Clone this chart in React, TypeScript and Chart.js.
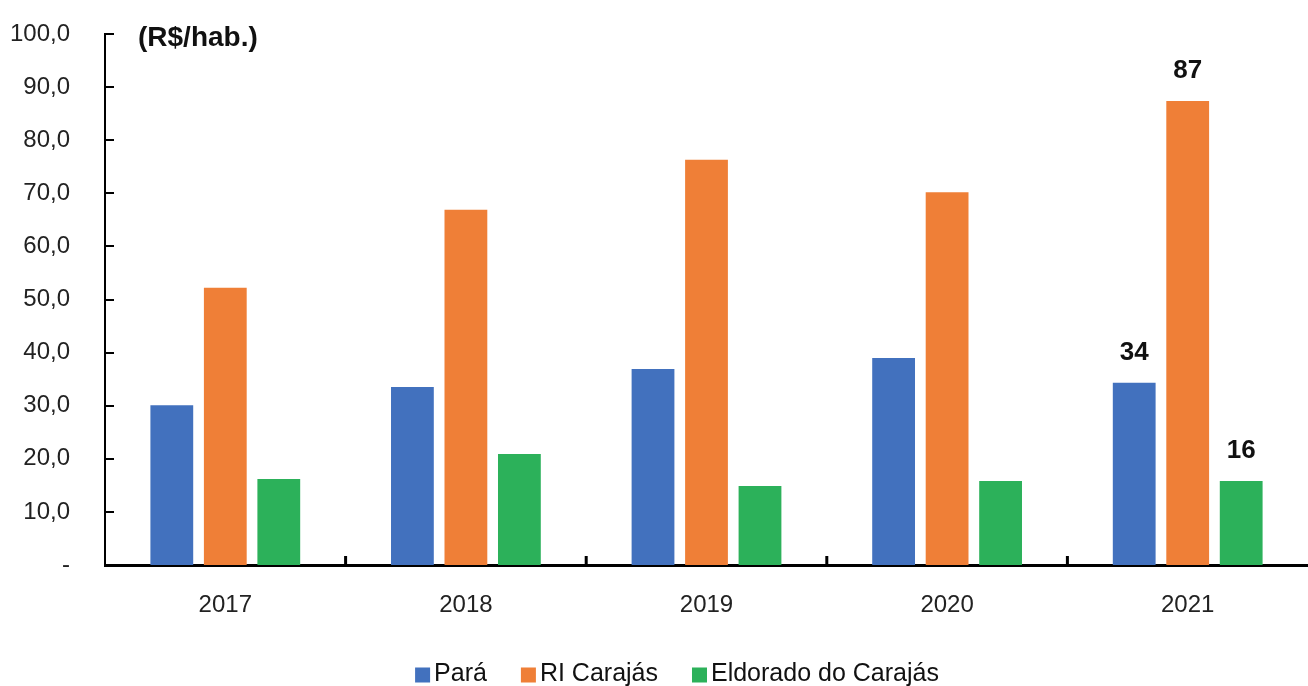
import React, { useEffect, useRef } from "react";
import { Chart, registerables } from "chart.js";

Chart.register(...registerables);

const categories = ["2017", "2018", "2019", "2020", "2021"];
const seriesNames = ["Pará", "RI Carajás", "Eldorado do Carajás"];
const para = [30.1, 33.5, 36.9, 39.0, 34.3];
const riCarajas = [52.2, 66.9, 76.3, 70.2, 87.4];
const eldorado = [16.2, 20.9, 14.9, 15.8, 15.8];
const yTickLabels = ["-", "10,0", "20,0", "30,0", "40,0", "50,0", "60,0", "70,0", "80,0", "90,0", "100,0"];
const labeledCategory = "2021";
const unitLabel = "(R$/hab.)";

const FONT = "'Liberation Sans', Arial, sans-serif";
const colors = ["#4271BE", "#EF7F37", "#2CB15A"];

export default function App() {
  const ref = useRef<HTMLCanvasElement | null>(null);
  useEffect(() => {
    document.body.style.margin = "0";
    const canvas = ref.current!;
    const decor = {
      id: "decor",
      afterDraw(chart: any) {
        const ctx = chart.ctx;
        const x = chart.scales.x;
        const y = chart.scales.y;
        const area = chart.chartArea;
        ctx.save();
        ctx.strokeStyle = "#000";
        ctx.lineWidth = 2;
        y.ticks.forEach((t: any) => {
          if (t.value === 0) return;
          const py = Math.round(y.getPixelForValue(t.value));
          ctx.beginPath();
          ctx.moveTo(area.left, py);
          ctx.lineTo(area.left + 9, py);
          ctx.stroke();
        });
        ctx.lineWidth = 3;
        for (let i = 1; i < categories.length; i++) {
          const px = (x.getPixelForValue(i - 1) + x.getPixelForValue(i)) / 2;
          ctx.beginPath();
          ctx.moveTo(px, area.bottom);
          ctx.lineTo(px, area.bottom - 9);
          ctx.stroke();
        }
        // unit label
        ctx.fillStyle = "#111";
        ctx.font = `bold 28px ${FONT}`;
        ctx.textAlign = "left";
        ctx.textBaseline = "middle";
        ctx.fillText(unitLabel, area.left + 33, area.top + 4);
        // value labels
        const idx = categories.indexOf(labeledCategory);
        ctx.font = `bold 26px ${FONT}`;
        ctx.textAlign = "center";
        ctx.textBaseline = "bottom";
        chart.data.datasets.forEach((ds: any, di: number) => {
          const el = chart.getDatasetMeta(di).data[idx];
          ctx.fillText(String(Math.round(ds.data[idx])), el.x, el.y - 17);
        });
        // legend
        ctx.font = `25px ${FONT}`;
        ctx.textAlign = "left";
        ctx.textBaseline = "middle";
        const box = 15, gap = 4, spacing = 34;
        const widths = chart.data.datasets.map((ds: any) => ctx.measureText(ds.label).width);
        const total = widths.reduce((a: number, w: number) => a + box + gap + w, 0) + spacing * (widths.length - 1);
        let lx = chart.width / 2 + 23 - total / 2;
        const ly = 674;
        chart.data.datasets.forEach((ds: any, di: number) => {
          ctx.fillStyle = ds.backgroundColor;
          ctx.fillRect(lx, ly - box / 2 + 1, box, box);
          ctx.fillStyle = "#111";
          ctx.fillText(ds.label, lx + box + gap, ly);
          lx += box + gap + widths[di] + spacing;
        });
        ctx.restore();
      },
    };
    const chart = new Chart(canvas, {
      type: "bar",
      data: {
        labels: categories,
        datasets: [para, riCarajas, eldorado].map((d, i) => ({
          label: seriesNames[i],
          data: d,
          backgroundColor: colors[i],
          borderWidth: 0,
          categoryPercentage: 0.667,
          barPercentage: 0.8,
        })),
      },
      options: {
        responsive: false,
        animation: false,
        layout: { padding: { top: 34, right: 0, bottom: 61, left: 0 } },
        plugins: {
          tooltip: { enabled: false },
          legend: { display: false },
        },
        scales: {
          x: {
            grid: { display: false, drawTicks: false },
            border: { display: true, color: "#000", width: 3 },
            ticks: { color: "#222", font: { family: FONT, size: 24 }, padding: 26 },
            afterFit(scale: any) {
              scale.height = 60;
            },
          },
          y: {
            min: 0,
            max: 100,
            grid: { display: false, drawTicks: false },
            border: { display: true, color: "#000", width: 2 },
            ticks: {
              stepSize: 10,
              padding: 35,
              color: "#222",
              font: { family: FONT, size: 24 },
              callback: (v: any) => yTickLabels[Math.round(Number(v) / 10)],
            },
            afterFit(scale: any) {
              scale.width = 105;
              scale.paddingTop = 0;
              scale.paddingBottom = 0;
            },
          },
        },
      },
      plugins: [decor],
    });
    return () => chart.destroy();
  }, []);
  return <canvas ref={ref} width={1308} height={686} style={{ display: "block" }} />;
}
